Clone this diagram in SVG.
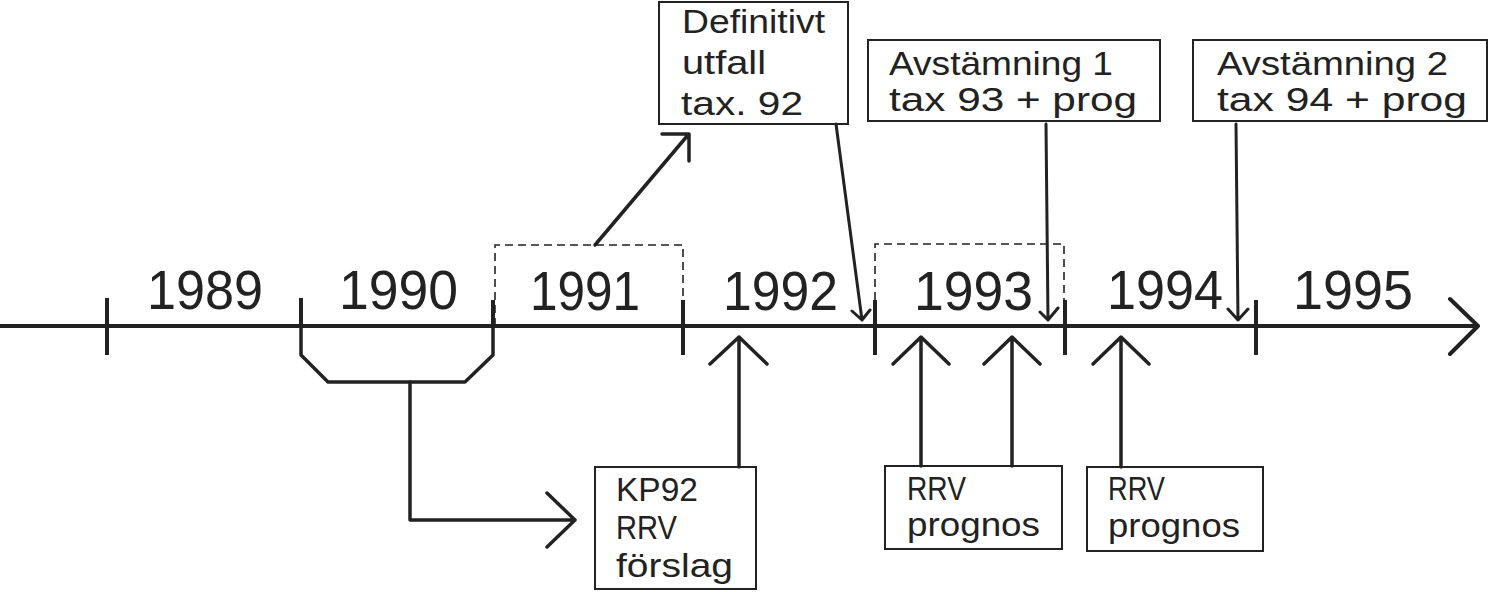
<svg xmlns="http://www.w3.org/2000/svg" width="1492" height="592" viewBox="0 0 1492 592">
<style>
.bg{fill:#fff}
.box{fill:#fff;stroke:#222;stroke-width:2}
.dash{fill:none;stroke:#222;stroke-width:1.6;stroke-dasharray:8 5}
.t{font-family:"Liberation Sans",Arial,sans-serif;fill:#222}
.yr{font-size:55px}
.lbl{font-size:33px}
.axis{fill:none;stroke:#222;stroke-width:4;stroke-linecap:round;stroke-linejoin:round}
.tick{fill:none;stroke:#222;stroke-width:4;stroke-linecap:butt}
.con{fill:none;stroke:#222;stroke-width:3.5;stroke-linecap:round;stroke-linejoin:round}
.con2{fill:none;stroke:#222;stroke-width:3;stroke-linecap:round;stroke-linejoin:round}
</style>
<rect class="bg" x="0" y="0" width="1492" height="592"/>

<g id="timeline">
<path class="axis" d="M0 326 H1478 M1450 299 L1478 326 L1450 354"/>
<path class="tick" d="M107 298 V355 M301 298 V326 M493 300 V326 M683 300 V355 M875 300 V355 M1065 300 V355 M1256 300 V355"/>
</g>

<g id="year-1991-frame"><path class="dash" d="M495 326 V245 H683 V300"/></g>
<g id="year-1993-frame"><path class="dash" d="M875 300 V244 H1064 V300"/></g>

<g id="years">
<text class="t yr" x="147" y="309" textLength="116" lengthAdjust="spacingAndGlyphs">1989</text>
<text class="t yr" x="339" y="309" textLength="119" lengthAdjust="spacingAndGlyphs">1990</text>
<text class="t yr" x="530" y="310" textLength="110" lengthAdjust="spacingAndGlyphs">1991</text>
<text class="t yr" x="723" y="310" textLength="115" lengthAdjust="spacingAndGlyphs">1992</text>
<text class="t yr" x="914" y="310" textLength="119" lengthAdjust="spacingAndGlyphs">1993</text>
<text class="t yr" x="1107" y="309" textLength="116" lengthAdjust="spacingAndGlyphs">1994</text>
<text class="t yr" x="1293" y="309" textLength="120" lengthAdjust="spacingAndGlyphs">1995</text>
</g>

<g id="definitivt">
<rect class="box" x="659" y="2" width="189" height="122"/>
<text class="t lbl" x="682" y="33" textLength="143" lengthAdjust="spacingAndGlyphs">Definitivt</text>
<text class="t lbl" x="682" y="74" textLength="84" lengthAdjust="spacingAndGlyphs">utfall</text>
<text class="t lbl" x="681" y="115" textLength="122" lengthAdjust="spacingAndGlyphs">tax. 92</text>
</g>

<g id="avstamning1">
<rect class="box" x="868" y="40" width="292" height="81"/>
<text class="t lbl" x="889" y="75" textLength="224" lengthAdjust="spacingAndGlyphs">Avstämning 1</text>
<text class="t lbl" x="889" y="111" textLength="248" lengthAdjust="spacingAndGlyphs">tax 93 + prog</text>
</g>

<g id="avstamning2">
<rect class="box" x="1193" y="40" width="294" height="81"/>
<text class="t lbl" x="1217" y="75" textLength="231" lengthAdjust="spacingAndGlyphs">Avstämning 2</text>
<text class="t lbl" x="1217" y="111" textLength="250" lengthAdjust="spacingAndGlyphs">tax 94 + prog</text>
</g>

<g id="kp92">
<rect class="box" x="595" y="467" width="161" height="122"/>
<text class="t lbl" x="616" y="501" textLength="82" lengthAdjust="spacingAndGlyphs">KP92</text>
<text class="t lbl" x="616" y="539" textLength="61" lengthAdjust="spacingAndGlyphs">RRV</text>
<text class="t lbl" x="616" y="577" textLength="117" lengthAdjust="spacingAndGlyphs">förslag</text>
</g>

<g id="rrv-prognos-1">
<rect class="box" x="885" y="466" width="177" height="83"/>
<text class="t lbl" x="907" y="500" textLength="59" lengthAdjust="spacingAndGlyphs">RRV</text>
<text class="t lbl" x="907" y="536" textLength="133" lengthAdjust="spacingAndGlyphs">prognos</text>
</g>

<g id="rrv-prognos-2">
<rect class="box" x="1087" y="467" width="176" height="84"/>
<text class="t lbl" x="1108" y="500" textLength="57" lengthAdjust="spacingAndGlyphs">RRV</text>
<text class="t lbl" x="1108" y="537" textLength="132" lengthAdjust="spacingAndGlyphs">prognos</text>
</g>

<g id="connectors">
<!-- bracket 1990 to KP92 -->
<path class="con" d="M301 326 V355 L328 382 H465 L493 355 V326"/>
<path class="con" d="M410 382 V520 H575 M547 493 L575 520 L547 547"/>
<!-- 1991 to Definitivt -->
<path class="con" d="M595 245 L688 135 M662 134 H689 V161"/>
<!-- Definitivt to 1992 end -->
<path class="con2" d="M836 124 L862 320 M852 311 L862 320 L870 310"/>
<!-- Avstamning 1 to 1993 end -->
<path class="con2" d="M1046 124 L1048 320 M1040 312 L1048 320 L1058 308"/>
<!-- Avstamning 2 to 1994 end -->
<path class="con2" d="M1236 124 L1238 320 M1228 309 L1238 320 L1248 309"/>
<!-- KP92 up -->
<path class="con" d="M739 467 V337 M710 364 L739 337 L767 364"/>
<!-- RRV prognos 1 up -->
<path class="con" d="M921 466 V337 M893 364 L921 337 L949 364"/>
<path class="con" d="M1012 466 V337 M984 364 L1012 337 L1040 364"/>
<!-- RRV prognos 2 up -->
<path class="con" d="M1121 467 V337 M1093 364 L1121 337 L1149 364"/>
</g>
</svg>
